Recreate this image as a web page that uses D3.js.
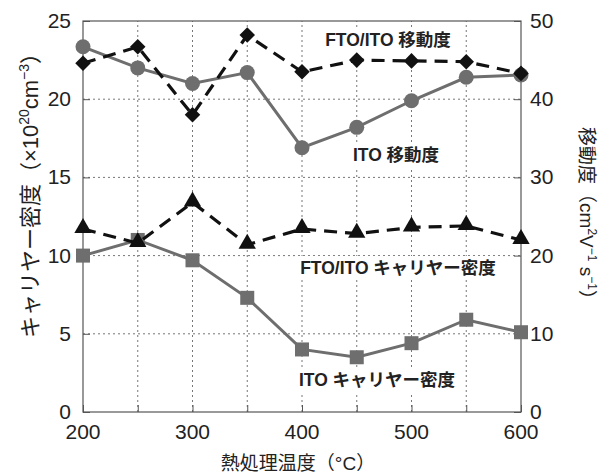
<!DOCTYPE html>
<html lang="ja">
<head>
<meta charset="UTF-8">
<title>熱処理温度と移動度・キャリヤー密度</title>
<script src="https://d3js.org/d3.v7.min.js"></script>
<style>
  body { margin: 0; background: #fff; }
  svg text { font-family: "Liberation Sans", Arial, "Noto Sans CJK JP", sans-serif; fill: #222; }
</style>
</head>
<body>
<div id="chart"></div>
<script>
// temperatures (°C)
const temps = [200, 250, 300, 350, 400, 450, 500, 550, 600];
// mobility, right axis (cm2/Vs)
const itoMobility    = [46.7, 44.0, 42.0, 43.4, 33.8, 36.4, 39.8, 42.8, 43.1];
const ftoItoMobility = [44.6, 46.7, 38.0, 48.2, 43.5, 45.0, 44.9, 44.8, 43.3];
// carrier density, left axis (x10^20 cm-3)
const ftoItoCarrier  = [11.7, 10.8, 13.4, 10.7, 11.7, 11.4, 11.8, 11.9, 11.0];
const itoCarrier     = [10.0, 11.0, 9.7, 7.3, 4.0, 3.5, 4.4, 5.9, 5.1];

const leftTicks = [0, 5, 10, 15, 20, 25];
const rightTicks = [0, 10, 20, 30, 40, 50];
const xTicks = [200, 300, 400, 500, 600];

const W = 603, H = 476;
const m = { left: 83, right: 82, top: 21, bottom: 64 };

const svg = d3.select("#chart").append("svg")
    .attr("width", W).attr("height", H);

const x = d3.scaleLinear().domain([200, 600]).range([m.left, W - m.right]);
const yL = d3.scaleLinear().domain([0, 25]).range([H - m.bottom, m.top]);
const yR = d3.scaleLinear().domain([0, 50]).range([H - m.bottom, m.top]);

const frameColor = "#555";

// grid
const grid = svg.append("g");
grid.selectAll(".vg").data(d3.range(250, 600, 50)).enter().append("line")
    .attr("x1", d => x(d)).attr("x2", d => x(d))
    .attr("y1", yL(0)).attr("y2", yL(25))
    .attr("stroke", "#777").attr("stroke-width", 1).attr("stroke-dasharray", "2,3");
grid.selectAll(".hg").data([5, 10, 15, 20]).enter().append("line")
    .attr("x1", x(200)).attr("x2", x(600))
    .attr("y1", d => yL(d)).attr("y2", d => yL(d))
    .attr("stroke", "#777").attr("stroke-width", 1).attr("stroke-dasharray", "2,3");

// frame
svg.append("rect")
    .attr("x", x(200)).attr("y", yL(25))
    .attr("width", x(600) - x(200)).attr("height", yL(0) - yL(25))
    .attr("fill", "none").attr("stroke", frameColor).attr("stroke-width", 1.2);

// axes with inward ticks
const axB = svg.append("g").attr("transform", `translate(0,${yL(0)})`)
    .call(d3.axisBottom(x).tickValues(d3.range(200, 601, 50)).tickSize(-7).tickFormat(""));
const axL = svg.append("g").attr("transform", `translate(${x(200)},0)`)
    .call(d3.axisLeft(yL).tickValues(leftTicks).tickSize(-7).tickFormat(""));
const axR = svg.append("g").attr("transform", `translate(${x(600)},0)`)
    .call(d3.axisRight(yR).tickValues(rightTicks).tickSize(-7).tickFormat(""));
[axB, axL, axR].forEach(a => {
    a.select(".domain").remove();
    a.selectAll("line").attr("stroke", frameColor);
});

// tick labels
svg.selectAll(".xl").data(xTicks).enter().append("text")
    .attr("x", d => x(d)).attr("y", yL(0) + 27)
    .attr("text-anchor", "middle").attr("font-size", 21).text(d => d);
svg.selectAll(".yl").data(leftTicks).enter().append("text")
    .attr("x", x(200) - 12).attr("y", d => yL(d) + 7)
    .attr("text-anchor", "end").attr("font-size", 21).text(d => d);
svg.selectAll(".yr").data(rightTicks).enter().append("text")
    .attr("x", x(600) + 9).attr("y", d => yR(d) + 7)
    .attr("text-anchor", "start").attr("font-size", 21).text(d => d);

// axis titles
svg.append("text")
    .attr("x", 298).attr("y", 470)
    .attr("text-anchor", "middle").attr("font-size", 19)
    .text("熱処理温度（°C）");

const lt = svg.append("text")
    .attr("transform", "translate(38,190) rotate(-90)")
    .attr("text-anchor", "middle").attr("font-size", 22);
lt.append("tspan").text("キャリヤー密度（×10");
lt.append("tspan").attr("font-size", 14).attr("dy", -9).text("20");
lt.append("tspan").attr("dy", 9).text("cm");
lt.append("tspan").attr("font-size", 14).attr("dy", -9).text("−3");
lt.append("tspan").attr("dy", 9).text("）");

const rt = svg.append("text")
    .attr("transform", "translate(580,218) rotate(90)")
    .attr("text-anchor", "middle").attr("font-size", 19);
rt.append("tspan").text("移動度（cm");
rt.append("tspan").attr("font-size", 12).attr("dy", -8).text("2");
rt.append("tspan").attr("dy", 8).text("V");
rt.append("tspan").attr("font-size", 12).attr("dy", -8).text("−1");
rt.append("tspan").attr("dy", 8).text(" s");
rt.append("tspan").attr("font-size", 12).attr("dy", -8).text("−1");
rt.append("tspan").attr("dy", 8).text("）");

// in-plot labels with white background
const labels = [
    { text: "FTO/ITO 移動度", x: 388, y: 40 },
    { text: "ITO 移動度", x: 396, y: 155 },
    { text: "FTO/ITO キャリヤー密度", x: 398, y: 268 },
    { text: "ITO キャリヤー密度", x: 377, y: 380 }
];
const labelG = svg.append("g");
labels.forEach(l => {
    const bg = labelG.append("rect").attr("fill", "#fff");
    const t = labelG.append("text")
        .attr("x", l.x).attr("y", l.y + 6)
        .attr("text-anchor", "middle").attr("font-size", 17.5).attr("font-weight", "bold")
        .attr("fill", "#111").text(l.text);
    const b = t.node().getBBox();
    bg.attr("x", b.x - 4).attr("y", b.y - 2)
        .attr("width", b.width + 8).attr("height", b.height + 4);
});

const gray = "#6e6e6e";

function drawLine(vals, yScale, color, dashed) {
    const line = d3.line().x((d, i) => x(temps[i])).y(d => yScale(d));
    svg.append("path").datum(vals)
        .attr("d", line).attr("fill", "none")
        .attr("stroke", color).attr("stroke-width", dashed ? 3.2 : 3)
        .attr("stroke-dasharray", dashed ? "13,8" : null);
}

// ITO carrier density (gray squares)
drawLine(itoCarrier, yL, gray, false);
svg.selectAll(".sq").data(itoCarrier).enter().append("rect")
    .attr("x", (d, i) => x(temps[i]) - 7).attr("y", d => yL(d) - 7)
    .attr("width", 14).attr("height", 14).attr("fill", gray);

// ITO mobility (gray circles)
drawLine(itoMobility, yR, gray, false);
svg.selectAll(".ci").data(itoMobility).enter().append("circle")
    .attr("cx", (d, i) => x(temps[i])).attr("cy", d => yR(d))
    .attr("r", 7.5).attr("fill", gray);

// FTO/ITO carrier density (black triangles)
drawLine(ftoItoCarrier, yL, "#111", true);
svg.selectAll(".tr").data(ftoItoCarrier).enter().append("path")
    .attr("d", d3.symbol().type(d3.symbolTriangle).size(130))
    .attr("transform", (d, i) => `translate(${x(temps[i])},${yL(d) - 1})`)
    .attr("fill", "#111");

// FTO/ITO mobility (black diamonds)
drawLine(ftoItoMobility, yR, "#111", true);
svg.selectAll(".di").data(ftoItoMobility).enter().append("rect")
    .attr("x", -5.5).attr("y", -5.5).attr("width", 11).attr("height", 11)
    .attr("transform", (d, i) => `translate(${x(temps[i])},${yR(d)}) rotate(45)`)
    .attr("fill", "#111");
</script>
</body>
</html>
